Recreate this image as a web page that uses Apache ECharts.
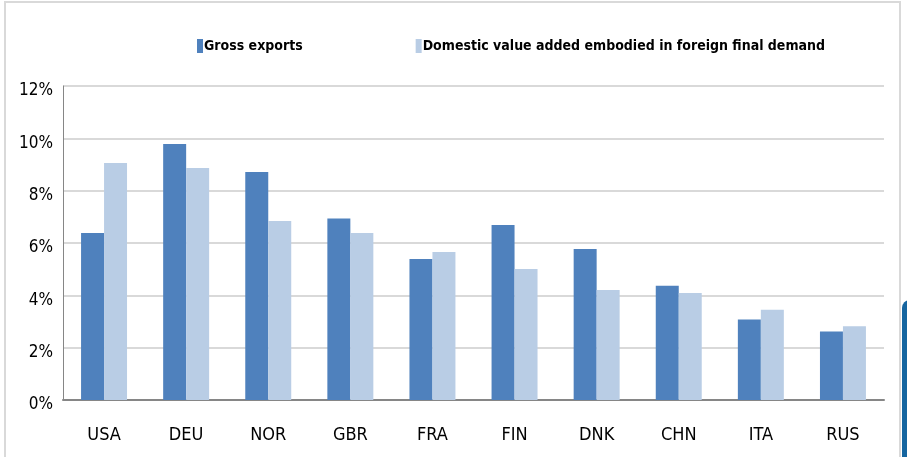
<!DOCTYPE html>
<html>
<head>
<meta charset="utf-8">
<script src="https://cdn.jsdelivr.net/npm/echarts@6/dist/echarts.min.js"></script>
<style>
  html, body { margin: 0; padding: 0; background: #fff; }
  #chart { width: 907px; height: 457px; }
</style>
</head>
<body>
<div id="chart"></div>
<script>
const countries = ['USA', 'DEU', 'NOR', 'GBR', 'FRA', 'FIN', 'DNK', 'CHN', 'ITA', 'RUS'];
const grossExports = [6.38, 9.78, 8.71, 6.94, 5.39, 6.69, 5.77, 4.37, 3.08, 2.62];
const domesticVA = [9.06, 8.87, 6.84, 6.38, 5.66, 5.01, 4.20, 4.09, 3.45, 2.82];
const seriesNames = ['Gross exports', 'Domestic value added embodied in foreign final demand'];

const font = '"DejaVu Sans Condensed", "Liberation Sans Narrow", sans-serif';

const chart = echarts.init(document.getElementById('chart'));
chart.setOption({
  animation: false,
  textStyle: { fontFamily: font },
  graphic: [
    {
      type: 'rect',
      shape: { x: 5, y: 2, width: 895, height: 470 },
      style: { fill: 'none', stroke: '#d9d9d9', lineWidth: 2 },
      silent: true
    },
    {
      type: 'rect',
      shape: { x: 902, y: 300, width: 12, height: 170, r: [8, 0, 0, 0] },
      style: { fill: '#1565a0' },
      silent: true
    }
  ],
  legend: {
    top: 34,
    left: 192,
    width: 700,
    itemGap: 113,
    itemWidth: 6,
    itemHeight: 14,
    icon: 'rect',
    textStyle: { fontFamily: font, fontSize: 14, fontWeight: 'bold', color: '#000', padding: [0, 0, 0, -4] },
    data: seriesNames
  },
  grid: { left: 63, right: 23, top: 86, bottom: 57 },
  xAxis: {
    type: 'category',
    data: countries,
    axisLine: { lineStyle: { color: '#868686', width: 2 } },
    axisTick: { show: false },
    axisLabel: { color: '#000', fontSize: 18, margin: 26, fontFamily: font }
  },
  yAxis: {
    type: 'value',
    min: 0,
    max: 12,
    interval: 2,
    axisLine: { show: true, lineStyle: { color: '#868686', width: 1 } },
    axisTick: { show: false },
    axisLabel: {
      color: '#000', fontSize: 17, margin: 10, formatter: '{value}%', fontFamily: font,
      verticalAlign: 'top', lineHeight: 10
    },
    splitLine: { lineStyle: { color: '#d9d9d9', width: 2 } }
  },
  series: [
    {
      name: seriesNames[0],
      type: 'bar',
      data: grossExports,
      barGap: '0%',
      barCategoryGap: '44%',
      itemStyle: { color: '#4f81bd' }
    },
    {
      name: seriesNames[1],
      type: 'bar',
      data: domesticVA,
      itemStyle: { color: '#b9cde5' }
    }
  ]
});
</script>
</body>
</html>
